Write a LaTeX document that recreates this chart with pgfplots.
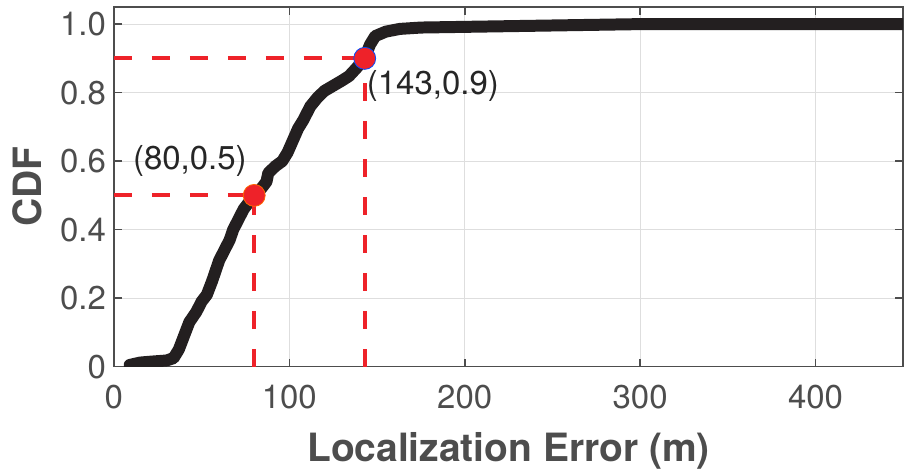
\documentclass[border=0pt]{standalone}
\usepackage{pgfplots}
\pgfplotsset{compat=1.18}
\usepackage{fontspec}
\setmainfont{TeX Gyre Heros}
\definecolor{axgray}{HTML}{4D4D4D}
\definecolor{cdfred}{HTML}{EE2229}
\definecolor{curve}{HTML}{231F20}
\begin{document}
\begin{tikzpicture}
\begin{axis}[
  name=ax,
  scale only axis,
  width=395pt, height=180pt,
  xmin=0, xmax=450, ymin=0, ymax=1.05,
  xtick={0,100,200,300,400},
  ytick={0,0.2,0.4,0.6,0.8,1.0},
  yticklabels={0,0.2,0.4,0.6,0.8,1.0},
  /pgf/number format/assume math mode=true,
  tick align=inside,
  major tick length=4pt,
  xtick pos=both, ytick pos=both,
  grid=major,
  major grid style={draw=black!13, line width=0.6pt},
  axis line style={draw=axgray, line width=0.8pt},
  every tick/.style={draw=axgray, line width=0.8pt},
  tick label style={font=\fontsize{16.5}{18}\selectfont, text=axgray},
  xticklabel style={yshift=-5.5pt},
  yticklabel style={xshift=-0.5pt},
  xlabel={\textbf{Localization Error (m)}},
  ylabel={\textbf{CDF}},
  label style={font=\fontsize{19.5}{22}\selectfont, text=axgray},
  xlabel style={at={(axis description cs:0.5,-0.264)}, anchor=base},
  ylabel style={at={(axis description cs:-0.110,0.5)}, anchor=center},
  clip=true,
]
\addplot[draw=curve, line width=6pt, line join=round, line cap=round] coordinates {
(9,0.005)(15,0.012)(22,0.015)(30,0.018)(34,0.025)(37,0.05)(40,0.09)(43,0.13)
(47,0.16)(50,0.19)(53,0.21)(56,0.25)(58,0.28)(60,0.31)(63,0.34)(66,0.37)
(68,0.40)(71,0.43)(74,0.46)(77,0.48)(80,0.50)(84,0.52)(87,0.54)(88,0.565)
(92,0.585)(96,0.60)(99,0.625)(102,0.66)(105,0.695)(108,0.72)(112,0.76)
(116,0.785)(120,0.805)(125,0.82)(130,0.835)(134,0.848)(138,0.87)(143,0.90)
(146,0.94)(149,0.965)(155,0.978)(163,0.986)(175,0.99)(200,0.992)(250,0.996)
(300,1.0)(450,1.0)};
\addplot[draw=cdfred, line width=2pt, dash pattern=on 9pt off 10pt] coordinates {(0,0.5)(80,0.5)};
\addplot[draw=cdfred, line width=2pt, dash pattern=on 9pt off 10pt] coordinates {(80,0)(80,0.5)};
\addplot[draw=cdfred, line width=2pt, dash pattern=on 9pt off 10pt] coordinates {(0,0.9)(143,0.9)};
\addplot[draw=cdfred, line width=2pt, dash pattern=on 9pt off 10pt] coordinates {(143,0)(143,0.9)};
\addplot[only marks, mark=*, mark size=5.5pt, mark options={fill=cdfred, draw=orange!80!red, line width=0.4pt}] coordinates {(80,0.5)};
\addplot[only marks, mark=*, mark size=5.5pt, mark options={fill=cdfred, draw=blue!70!cyan, line width=0.4pt}] coordinates {(143,0.9)};
\node[font=\fontsize{16.5}{18}\selectfont, text=black!85, inner sep=0pt, anchor=base] at (axis cs:43.3,0.575) {(80,0.5)};
\node[font=\fontsize{16.5}{18}\selectfont, text=black!85, inner sep=0pt, anchor=base west] at (axis cs:144,0.794) {(143,0.9)};
\end{axis}
\pgfresetboundingbox
\path[use as bounding box] ([xshift=-57pt,yshift=-51.5pt]ax.south west) rectangle ([xshift=0.4pt,yshift=3.5pt]ax.north east);
\end{tikzpicture}
\end{document}
